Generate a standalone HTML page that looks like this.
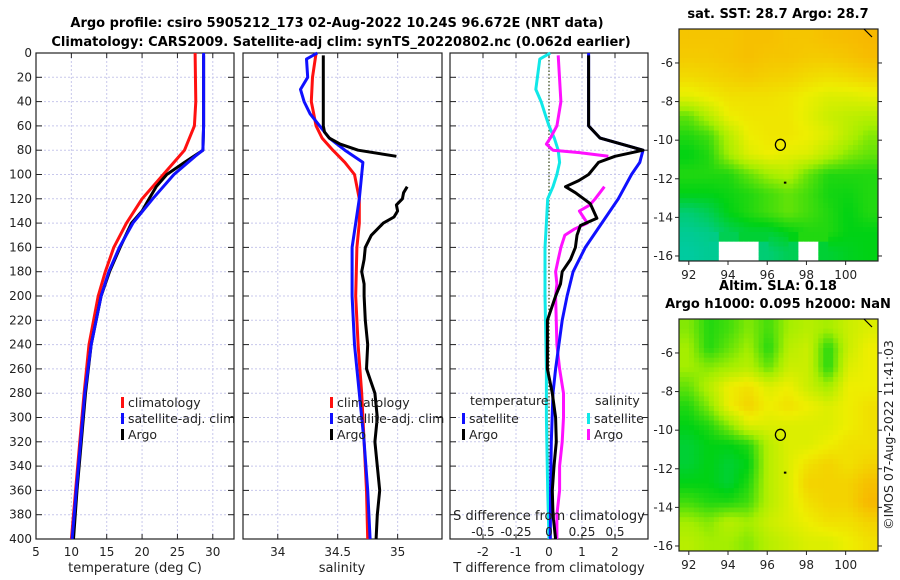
<!DOCTYPE html>
<html><head><meta charset="utf-8"><style>
body{margin:0;background:#fff}
svg{display:block;font-family:"DejaVu Sans","Liberation Sans",sans-serif}
</style></head><body>
<svg id="c" width="900" height="580" viewBox="0 0 900 580"></svg>
<script>
const depthTicks=[0,20,40,60,80,100,120,140,160,180,200,220,240,260,280,300,320,340,360,380,400];
const tTicks=[5,10,15,20,25,30];
const sTicks=[34,34.5,35];
const dTTicks=[-2,-1,0,1,2];
const dSTicks=[-0.5,-0.25,0,0.25,0.5];
const dSTickLabels=["-0.5","-0.25","0","0.25","0.5"];
// temperature
const tClimD=[0,40,60,80,90,100,120,140,160,180,200,240,280,320,360,400];
const tClimV=[27.5,27.6,27.4,26.0,24.5,23.0,20.0,17.8,16.0,14.8,13.8,12.5,11.8,11.2,10.6,10.0];
const tSatD=[0,60,80,85,100,120,140,160,180,200,240,280,320,360,400];
const tSatV=[28.7,28.7,28.6,27.5,24.5,21.5,18.7,16.8,15.3,14.2,12.8,11.9,11.3,10.7,10.1];
const tArgoD=[2,60,80,90,100,110,120,130,140,160,180,200,240,280,320,360,400];
const tArgoV=[28.7,28.7,28.6,26.0,23.5,22.0,21.0,20.0,18.5,16.9,15.4,14.2,12.8,12.0,11.4,10.8,10.3];
// salinity
const sClimD=[0,20,40,60,70,80,90,100,120,140,160,200,240,280,320,360,400];
const sClimV=[34.32,34.29,34.28,34.32,34.37,34.46,34.56,34.64,34.68,34.68,34.66,34.65,34.67,34.70,34.72,34.74,34.75];
const sSatD=[0,5,20,30,40,50,60,70,80,90,100,120,140,160,200,240,280,320,360,400];
const sSatV=[34.33,34.24,34.25,34.19,34.22,34.27,34.35,34.43,34.56,34.71,34.70,34.68,34.65,34.62,34.62,34.64,34.68,34.72,34.75,34.77];
const sArgoD=[2,60,65,70,75,80,85,null,110,115,120,125,130,135,140,145,150,160,170,180,190,200,220,240,260,280,300,320,340,360,380,400];
const sArgoV=[34.38,34.38,34.39,34.43,34.52,34.67,34.99,null,35.08,35.05,35.04,34.99,35.0,34.97,34.88,34.83,34.78,34.73,34.72,34.70,34.72,34.72,34.73,34.75,34.74,34.81,34.83,34.81,34.83,34.85,34.83,34.82];
// differences
const dTSatD=[0,60,70,80,90,100,120,140,160,180,200,220,240,260,280,320,360,400];
const dTSatV=[1.2,1.2,1.55,2.85,2.75,2.5,2.1,1.6,1.1,0.73,0.55,0.4,0.3,0.2,0.12,0.07,0.05,0.04];
const dTArgoD=[2,60,70,80,85,90,100,105,110,115,124,136,142,150,160,170,180,190,200,220,240,260,280,300,320,340,360,380,400];
const dTArgoV=[1.2,1.2,1.55,2.85,2.0,1.5,1.2,0.9,0.5,0.8,1.25,1.45,0.95,0.85,0.8,0.65,0.4,0.35,0.2,-0.05,-0.05,-0.05,0.1,0.2,0.22,0.15,0.1,0.12,0.2];
const dSSatD=[0,5,30,40,50,60,70,80,90,100,110,120,140,160,200,260,300,360,400];
const dSSatV=[0.01,-0.07,-0.1,-0.06,-0.03,0,0.04,0.07,0.08,0.06,0.03,-0.01,-0.02,-0.03,-0.03,-0.02,-0.02,-0.01,0];
const dSArgoD=[2,40,60,70,75,80,82,85,null,110,120,125,130,135,140,145,150,160,170,180,190,200,240,260,280,300,320,340,360,380,400];
const dSArgoV=[0.07,0.09,0.06,0.01,-0.02,0.03,0.23,0.45,null,0.42,0.35,0.31,0.23,0.26,0.29,0.19,0.12,0.09,0.07,0.05,0.06,0.05,0.06,0.08,0.11,0.11,0.1,0.08,0.08,0.06,0.06];
// maps (rows top->bottom, cols west->east), -1 = no data
const lonTicks=[92,94,96,98,100];
const latTicks=[-6,-8,-10,-12,-14,-16];
const sstGrid=[
[0.9,0.9,0.9,0.92,0.92,0.9,0.9,0.92,0.93,0.95],
[0.88,0.88,0.9,0.92,0.9,0.9,0.88,0.88,0.9,0.93],
[0.82,0.84,0.86,0.88,0.86,0.85,0.82,0.8,0.82,0.85],
[0.72,0.76,0.8,0.8,0.8,0.78,0.74,0.7,0.7,0.72],
[0.45,0.6,0.75,0.78,0.78,0.78,0.72,0.65,0.62,0.6],
[0.35,0.4,0.6,0.75,0.78,0.78,0.75,0.7,0.6,0.5],
[0.3,0.35,0.55,0.7,0.75,0.72,0.7,0.6,0.5,0.45],
[0.35,0.35,0.35,0.45,0.55,0.6,0.45,0.35,0.35,0.35],
[0.3,0.3,0.32,0.35,0.4,0.45,0.4,0.33,0.32,0.35],
[0.15,0.2,0.3,0.35,0.4,0.45,0.4,0.35,0.3,0.35],
[0.1,0.12,0.2,0.25,0.25,0.3,0.35,0.35,0.3,0.3],
[0.08,0.1,-1,-1,0.15,0.2,-1,0.25,0.28,0.3]];
const slaGrid=[
[0.5,0.35,0.4,0.5,0.4,0.55,0.6,0.55,0.65,0.7],
[0.55,0.35,0.45,0.55,0.35,0.6,0.65,0.35,0.65,0.75],
[0.55,0.5,0.55,0.6,0.45,0.65,0.65,0.35,0.7,0.75],
[0.45,0.6,0.75,0.8,0.7,0.75,0.65,0.55,0.75,0.75],
[0.35,0.5,0.75,0.85,0.75,0.8,0.75,0.7,0.75,0.8],
[0.3,0.35,0.5,0.7,0.7,0.7,0.7,0.7,0.75,0.8],
[0.25,0.3,0.3,0.35,0.6,0.7,0.7,0.75,0.8,0.8],
[0.25,0.3,0.25,0.3,0.6,0.7,0.8,0.85,0.8,0.85],
[0.3,0.3,0.25,0.35,0.6,0.7,0.85,0.85,0.85,0.92],
[0.4,0.35,0.35,0.4,0.6,0.7,0.8,0.85,0.85,0.95],
[0.55,0.5,0.6,0.55,0.65,0.7,0.75,0.8,0.8,0.85],
[0.6,0.55,0.55,0.5,0.6,0.65,0.7,0.7,0.75,0.8]];

const NS='http://www.w3.org/2000/svg';
const svg=document.getElementById('c');
function el(tag,attrs,parent){const e=document.createElementNS(NS,tag);for(const k in attrs)e.setAttribute(k,attrs[k]);(parent||svg).appendChild(e);return e;}
function txt(s,x,y,attrs){const e=el('text',Object.assign({x:x,y:y,'font-size':12,fill:'#222'},attrs||{}));e.textContent=s;return e;}

const Y0=53,Y1=539;
const yD=d=>Y0+(d/400)*(Y1-Y0);
const panels=[
 {name:'temperature-panel',x0:36,x1:234,lo:5,hi:33},
 {name:'salinity-panel',x0:243,x1:442,lo:33.71,hi:35.37},
 {name:'difference-panel',x0:450,x1:648,lo:-3,hi:3}];
function sx(p,v){return p.x0+(v-p.lo)/(p.hi-p.lo)*(p.x1-p.x0);}

panels.forEach((p,i)=>{
 const g=el('g',{});
 
 
 const xt=i==0?tTicks:i==1?sTicks:dTTicks;
 xt.forEach(v=>{const X=sx(p,v);el('line',{x1:X,x2:X,y1:Y0,y2:Y1,stroke:'#c8c8ec','stroke-dasharray':'2,2','stroke-width':1},g);
  el('line',{x1:X,x2:X,y1:Y1,y2:Y1-5,stroke:'#222'},g);el('line',{x1:X,x2:X,y1:Y0,y2:Y0+5,stroke:'#222'},g);
  const t=txt(String(v),X,556,{'text-anchor':'middle'});});
 depthTicks.forEach(d=>{const Yy=yD(d);el('line',{x1:p.x0,x2:p.x1,y1:Yy,y2:Yy,stroke:'#c8c8ec','stroke-dasharray':'2,2','stroke-width':1},g);
  el('line',{x1:p.x0,x2:p.x0+6,y1:Yy,y2:Yy,stroke:'#222'},g);el('line',{x1:p.x1,x2:p.x1-6,y1:Yy,y2:Yy,stroke:'#222'},g);
  if(i==0){const t=txt(String(d),p.x0-4,Yy+4,{'text-anchor':'end'});}});
 el('rect',{x:p.x0,y:Y0,width:p.x1-p.x0,height:Y1-Y0,fill:'none',stroke:'#222','stroke-width':1.2},g);
});
function line(p,D,V,color,name,fn){
 let segs=[],cur=[];
 D.forEach((d,k)=>{if(d===null||V[k]===null){if(cur.length)segs.push(cur);cur=[];}else cur.push([fn?fn(V[k]):sx(p,V[k]),yD(d)]);});
 if(cur.length)segs.push(cur);
 segs.forEach(s=>{const pl=el('polyline',{points:s.map(q=>q[0].toFixed(1)+','+q[1].toFixed(1)).join(' '),fill:'none',stroke:color,'stroke-width':3,'stroke-linejoin':'round'});
  
  });
}
const P0=panels[0],P1=panels[1],P2=panels[2];
line(P0,tClimD,tClimV,'#ff1010','temp-climatology-line');
line(P0,tArgoD,tArgoV,'#000','temp-argo-line');
line(P0,tSatD,tSatV,'#1010ff','temp-satellite-line');
line(P1,sClimD,sClimV,'#ff1010','salinity-climatology-line');
line(P1,sSatD,sSatV,'#1010ff','salinity-satellite-line');
line(P1,sArgoD,sArgoV,'#000','salinity-argo-line');
const zx=sx(P2,0);
const zl=el('line',{x1:zx,x2:zx,y1:Y0,y2:Y1,stroke:'#445522','stroke-dasharray':'1.5,2','stroke-width':1.3});

const sxS=v=>sx(P2,v*4);
line(P2,dSSatD,dSSatV,'#10e8e8','salinity-satellite-diff-line',sxS);
line(P2,dSArgoD,dSArgoV,'#ff10ff','salinity-argo-diff-line',sxS);
line(P2,dTSatD,dTSatV,'#1010ff','temp-satellite-diff-line');
line(P2,dTArgoD,dTArgoV,'#000','temp-argo-diff-line');
dSTicks.forEach((v,k)=>{const t=txt(dSTickLabels[k],sxS(v),536,{'text-anchor':'middle'});});

function legend(x,y,color,label){const r=el('rect',{x:x,y:y-9,width:3,height:11,fill:color});
 const t=txt(label,x+7,y+1,{'font-size':12.5});}
legend(121,406,'#ff1010','climatology');legend(121,422,'#1010ff','satellite-adj. clim');legend(121,438,'#000','Argo');
legend(330,406,'#ff1010','climatology');legend(330,422,'#1010ff','satellite-adj. clim');legend(330,438,'#000','Argo');
let t=txt('temperature',470,405,{'font-size':12.5});
t=txt('salinity',595,405,{'font-size':12.5});
legend(462,422,'#1010ff','satellite');legend(462,438,'#000','Argo');
legend(587,422,'#10e8e8','satellite');legend(587,438,'#ff10ff','Argo');

t=txt('temperature (deg C)',135,572,{'text-anchor':'middle','font-size':13});
t=txt('salinity',342,572,{'text-anchor':'middle','font-size':13});
t=txt('T difference from climatology',549,572,{'text-anchor':'middle','font-size':13});
t=txt('S difference from climatology',549,520,{'text-anchor':'middle','font-size':13});
t=txt('Argo profile: csiro 5905212_173 02-Aug-2022 10.24S 96.672E (NRT data)',337,27,{'text-anchor':'middle','font-size':13,'font-weight':'bold',fill:'#000'});
t=txt('Climatology: CARS2009. Satellite-adj clim: synTS_20220802.nc (0.062d earlier)',341,46,{'text-anchor':'middle','font-size':13,'font-weight':'bold',fill:'#000'});

// maps
function cmap(v){if(v<0)return '#ffffff';
 const stops=[[0,[0,200,210]],[0.3,[0,210,20]],[0.55,[165,238,0]],[0.75,[238,238,0]],[1,[250,170,0]]];
 for(let i=1;i<stops.length;i++){if(v<=stops[i][0]){const a=stops[i-1],b=stops[i],f=(v-a[0])/(b[0]-a[0]);
  return 'rgb('+a[1].map((c,j)=>Math.round(c+(b[1][j]-c)*f)).join(',')+')';}}
 return 'rgb(250,170,0)';}
function sample(grid,fy,fx){
 const rows=grid.length,cols=grid[0].length;
 const gy=Math.min(Math.max(fy*rows-0.5,0),rows-1),gx=Math.min(Math.max(fx*cols-0.5,0),cols-1);
 const i0=Math.floor(gy),j0=Math.floor(gx),i1=Math.min(i0+1,rows-1),j1=Math.min(j0+1,cols-1);
 const near=grid[Math.min(Math.floor(fy*rows),rows-1)][Math.min(Math.floor(fx*cols),cols-1)];
 if(near<0)return -1;
 const vals=[grid[i0][j0],grid[i0][j1],grid[i1][j0],grid[i1][j1]];
 if(vals.some(v=>v<0))return near;
 const a=gy-i0,b=gx-j0;
 return vals[0]*(1-a)*(1-b)+vals[1]*(1-a)*b+vals[2]*a*(1-b)+vals[3]*a*b;}
function drawMap(grid,top,name,titles){
 const x0=679,x1=878,y0=top,y1=top+232;
 const lonX=l=>x0+(l-91.5)/(101.65-91.5)*(x1-x0);
 const latY=l=>y0+(-4.24-l)/(16.26-4.24)*(y1-y0);
 const g=el('g',{});
 const R=48,C=40,cw=(x1-x0)/C,ch=(y1-y0)/R;
 for(let i=0;i<R;i++)for(let j=0;j<C;j++){const v=sample(grid,(i+0.5)/R,(j+0.5)/C);
  el('rect',{x:(x0+j*cw).toFixed(2),y:(y0+i*ch).toFixed(2),width:(cw+0.4).toFixed(2),height:(ch+0.4).toFixed(2),fill:cmap(v)},g);}
 el('rect',{x:x0,y:y0,width:x1-x0,height:y1-y0,fill:'none',stroke:'#222','stroke-width':1.2},g);
 lonTicks.forEach(l=>{const X=lonX(l);el('line',{x1:X,x2:X,y1:y1,y2:y1+4,stroke:'#222'},g);
  const tt=txt(String(l),X,y1+18,{'text-anchor':'middle'});});
 latTicks.forEach(l=>{const Yy=latY(l);el('line',{x1:x0-4,x2:x0,y1:Yy,y2:Yy,stroke:'#222'},g);el('line',{x1:x1,x2:x1+4,y1:Yy,y2:Yy,stroke:'#222'},g);
  const tt=txt(String(l),x0-6,Yy+4,{'text-anchor':'end'});});
 const m=el('ellipse',{cx:lonX(96.672),cy:latY(-10.24),rx:5,ry:5.5,fill:'none',stroke:'#000','stroke-width':1.3},g);
 
 el('rect',{x:lonX(96.9)-1,y:latY(-12.2)-1,width:2.5,height:2,fill:'#000'},g);
 el('line',{x1:x1-14,y1:y0,x2:x1-6,y2:y0+8,stroke:'#000','stroke-width':1.2},g);
 titles.forEach((s,k)=>{const tt=txt(s,778,y0-11-(titles.length-1-k)*18,{'text-anchor':'middle','font-size':13,'font-weight':'bold',fill:'#000'});
  });
}
drawMap(sstGrid,29,'sst-map',['sat. SST: 28.7 Argo: 28.7']);
drawMap(slaGrid,319,'sla-map',['Altim. SLA: 0.18','Argo h1000: 0.095 h2000: NaN']);
t=txt('©IMOS 07-Aug-2022 11:41:03',0,0,{'font-size':12.5,'text-anchor':'middle',transform:'translate(893,435) rotate(-90)'});

</script>
</body></html>
